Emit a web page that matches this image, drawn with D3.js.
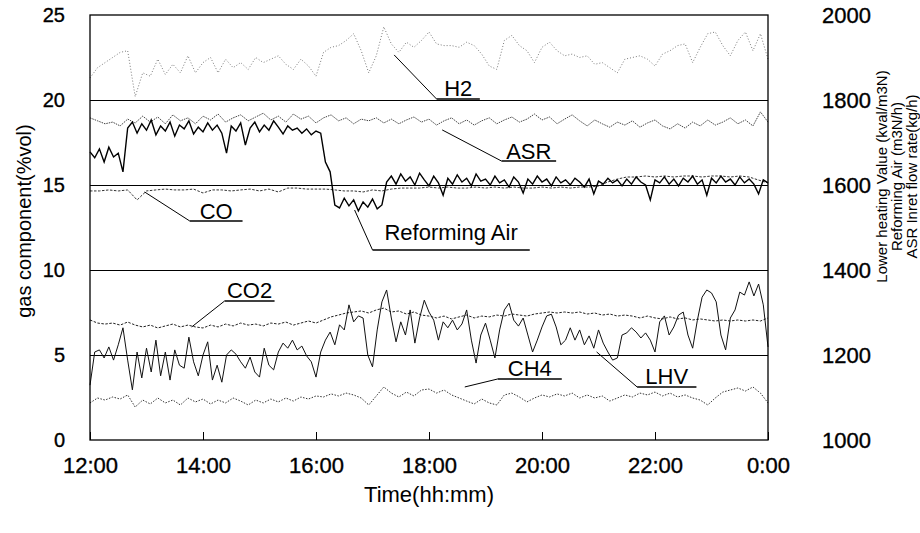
<!DOCTYPE html>
<html>

<head>
    <meta charset="utf-8">
    <style>
        body {
            margin: 0;
            background: #fff;
        }

        svg {
            font-family: "Liberation Sans", Arial, sans-serif;
        }

        .grid .tick line {
            stroke: #000;
            stroke-width: 1.1;
        }

        .grid .domain {
            display: none;
        }

        .axis .domain {
            display: none;
        }

        .axis .tick text {
            fill: #000;
            stroke: #000;
            stroke-width: 0.35;
        }

        .y.axis .tick text {
            font-size: 20px;
        }

        .y2.axis .tick text {
            font-size: 22px;
        }

        .x.axis .tick text {
            font-size: 22px;
        }

        .x.axis .tick line {
            stroke: #000;
            stroke-width: 1;
        }

        .note {
            font-size: 22px;
            fill: #000;
        }

        .title {
            font-size: 15px;
            fill: #000;
        }
    </style>
</head>

<body>
    <svg width="920" height="533"></svg>

    <script src="https://d3js.org/d3.v7.min.js"></script>

    <script>
        let width = 920;
        let height = 533;
        let margin = { top: 15, right: 152, bottom: 93, left: 90 };

        let svg = d3.select("svg")

        // time axis: minutes after 12:00
        let timeTicks = [0, 120, 240, 360, 480, 600, 720]
        let timeLabels = ["12:00", "14:00", "16:00", "18:00", "20:00", "22:00", "0:00"]
        let leftTicks = [0, 5, 10, 15, 20, 25]
        let rightTicks = [1000, 1200, 1400, 1600, 1800, 2000]

        // gas components (%vol), every 8 min
        let h2 = [21.3, 21.9, 22.2, 22.5, 22.8, 22.9, 20.2, 21.6, 21.4, 22.4,
            21.5, 22.1, 21.6, 22.6, 21.6, 22.2, 22.5, 21.6, 22.4, 21.9,
            22.2, 21.8, 22.5, 22.2, 22.4, 22.6, 22.1, 21.8, 22.4, 22.0,
            21.4, 22.8, 23.1, 23.2, 23.5, 23.9, 22.9, 21.6, 22.6, 24.3,
            23.3, 22.8, 23.4, 23.1, 23.5, 24.0, 23.3, 23.2, 23.2, 23.1,
            23.4, 23.2, 22.7, 22.0, 21.8, 23.5, 23.8, 23.2, 22.9, 22.2,
            23.1, 23.4, 22.9, 22.6, 22.7, 22.5, 22.6, 22.1, 22.2, 21.9,
            21.6, 22.4, 22.5, 22.6, 22.4, 22.0, 22.7, 22.9, 23.2, 23.3,
            22.2, 23.1, 23.9, 24.0, 23.2, 22.6, 23.5, 24.0, 22.9, 23.9,
            22.4]
        let co2 = [7.06, 6.88, 6.82, 6.88, 6.76, 6.94, 6.76, 6.65, 6.76, 6.59,
            6.71, 6.82, 6.65, 6.76, 6.65, 6.59, 6.76, 6.65, 6.82, 6.71,
            6.88, 6.76, 6.82, 6.71, 6.88, 6.82, 6.94, 6.76, 6.88, 7.00,
            6.88, 7.06, 7.24, 7.35, 7.47, 7.53, 7.59, 7.47, 7.65, 7.76,
            7.53, 7.59, 7.41, 7.53, 7.35, 7.29, 7.18, 7.29, 7.12, 7.24,
            7.35, 7.18, 7.29, 7.24, 7.35, 7.29, 7.41, 7.35, 7.29, 7.41,
            7.47, 7.53, 7.47, 7.53, 7.47, 7.53, 7.41, 7.47, 7.35, 7.41,
            7.29, 7.35, 7.29, 7.18, 7.29, 7.18, 7.12, 7.24, 7.12, 7.18,
            7.06, 7.12, 7.06, 7.00, 7.06, 7.00, 7.06, 7.00, 7.06, 7.00,
            7.18]
        let ch4 = [2.18, 2.47, 2.35, 2.53, 2.41, 2.65, 1.94, 2.35, 2.12, 2.47,
            2.18, 2.35, 2.06, 2.47, 2.24, 2.41, 2.12, 2.35, 2.18, 2.47,
            2.29, 2.06, 2.35, 2.18, 2.41, 2.24, 2.47, 2.29, 2.53, 2.41,
            2.59, 2.53, 2.71, 2.59, 2.76, 2.65, 2.47, 2.06, 2.59, 3.12,
            2.76, 2.53, 2.82, 2.59, 2.94, 3.00, 2.76, 2.94, 2.65, 2.47,
            2.29, 2.12, 2.41, 2.18, 2.06, 2.65, 2.76, 2.53, 2.24, 2.47,
            2.65, 2.53, 2.71, 2.59, 2.76, 2.47, 2.65, 2.47, 2.59, 2.29,
            2.47, 2.65, 2.53, 2.76, 2.65, 2.82, 2.59, 2.76, 2.53, 2.65,
            2.47, 2.35, 2.06, 2.47, 2.82, 2.94, 3.06, 2.88, 3.12, 2.76,
            2.18]
        // CO, every 10 min
        let co = [14.65, 14.65, 14.71, 14.65, 14.71, 14.12, 14.65, 14.71, 14.76, 14.71,
            14.71, 14.76, 14.53, 14.71, 14.71, 14.65, 14.71, 14.76, 14.65, 14.76,
            14.59, 14.82, 14.82, 14.76, 14.76, 14.76, 14.71, 14.65, 14.65, 14.59,
            14.71, 14.65, 14.76, 14.82, 14.82, 14.82, 14.88, 14.82, 14.88, 14.82,
            14.82, 14.88, 14.82, 14.88, 14.82, 14.88, 14.82, 14.82, 14.88, 14.82,
            14.88, 14.82, 14.88, 14.88, 14.94, 15.18, 15.35, 15.47, 15.47, 15.53,
            15.47, 15.53, 15.47, 15.53, 15.53, 15.47, 15.53, 15.53, 15.47, 15.53,
            15.47, 15.29, 15.12]

        // right axis series
        // ASR inlet flow (kg/h), every 8 min
        let asr = [1758, 1751, 1744, 1748, 1739, 1755, 1746, 1762, 1748, 1760,
            1744, 1765, 1751, 1758, 1744, 1762, 1753, 1767, 1748, 1758,
            1765, 1751, 1760, 1769, 1753, 1762, 1748, 1767, 1755, 1762,
            1746, 1758, 1765, 1751, 1758, 1744, 1755, 1751, 1758, 1746,
            1755, 1744, 1753, 1760, 1748, 1755, 1741, 1751, 1758, 1744,
            1753, 1741, 1751, 1758, 1744, 1753, 1760, 1748, 1755, 1767,
            1753, 1760, 1744, 1755, 1765, 1751, 1739, 1753, 1744, 1736,
            1748, 1741, 1751, 1736, 1746, 1753, 1739, 1732, 1744, 1734,
            1748, 1739, 1753, 1741, 1748, 1758, 1744, 1753, 1739, 1772,
            1748]
        // reforming air (m3N/h), every 5 min
        let refAir = [1678, 1664, 1685, 1654, 1689, 1666, 1675, 1631,
            1734, 1748, 1722, 1744, 1729, 1753, 1718, 1739, 1727, 1748,
            1715, 1741, 1732, 1751, 1720, 1736, 1725, 1746, 1729, 1741,
            1722, 1675, 1739, 1727, 1746, 1694, 1734, 1748, 1725, 1741,
            1729, 1751, 1736, 1720, 1739, 1729, 1734, 1722, 1732, 1718,
            1727, 1722,
            1654, 1631, 1553, 1546, 1569, 1551, 1565, 1539, 1560, 1548, 1567, 1544, 1553,
            1607, 1621, 1602, 1626, 1609, 1619, 1600, 1628, 1612, 1598,
            1621, 1605, 1576, 1616, 1602, 1624, 1607, 1616, 1598, 1626,
            1609, 1614, 1600, 1621, 1605, 1612, 1595, 1619, 1607, 1581,
            1614, 1602, 1621, 1607, 1614, 1598, 1619, 1605, 1612, 1600,
            1616, 1607, 1595, 1614, 1579, 1609, 1602, 1616, 1605, 1612,
            1598, 1614, 1602, 1619, 1607, 1600, 1565, 1612, 1605, 1619,
            1602, 1614, 1598, 1616, 1607, 1621, 1602, 1612, 1576, 1616,
            1605, 1621, 1607, 1614, 1600, 1619, 1605, 1614, 1602, 1579,
            1612, 1605]
        // lower heating value (kcal/m3N), every 5 min
        let lhv = [1129, 1207, 1212, 1193, 1219, 1188, 1224, 1264, 1188, 1118,
            1207, 1146, 1216, 1160, 1235, 1151, 1207, 1141, 1212, 1176,
            1169, 1242, 1184, 1151, 1200, 1231, 1141, 1176, 1136, 1200,
            1212, 1202, 1184, 1169, 1195, 1160, 1148, 1216, 1176, 1165,
            1207, 1228, 1216, 1235, 1212, 1221, 1198, 1184, 1148, 1207,
            1235, 1254, 1224, 1271, 1259, 1318, 1278, 1292, 1287, 1200,
            1172, 1259, 1325, 1353, 1287, 1231, 1278, 1247, 1306, 1228,
            1287, 1329, 1301, 1282, 1235, 1278, 1264, 1282, 1259, 1273,
            1306, 1235, 1181, 1247, 1275, 1235, 1193, 1259, 1306, 1322,
            1282, 1268, 1287, 1247, 1207, 1235, 1266, 1292, 1296, 1266,
            1224, 1235, 1264, 1235, 1259, 1224, 1245, 1216, 1259, 1228,
            1207, 1188, 1193, 1247, 1252, 1264, 1254, 1240, 1252, 1235,
            1207, 1278, 1292, 1247, 1266, 1294, 1301, 1247, 1216, 1282,
            1336, 1353, 1346, 1325, 1247, 1212, 1287, 1306, 1348, 1341,
            1372, 1339, 1367, 1318, 1219]

        let x = d3.scaleLinear()
            .domain([0, 720])
            .range([margin.left, width - margin.right])

        let yL = d3.scaleLinear()
            .domain([0, 25])
            .range([height - margin.bottom, margin.top])

        let yR = d3.scaleLinear()
            .domain([1000, 2000])
            .range([height - margin.bottom, margin.top])

        let plotW = width - margin.left - margin.right
        let plotH = height - margin.top - margin.bottom

        // gridlines
        svg.append("g")
            .attr("class", "grid")
            .attr("transform", `translate(${margin.left},0)`)
            .call(d3.axisLeft(yL).tickValues([5, 10, 15, 20]).tickSize(-plotW).tickFormat(""))

        // series
        let series = [
            { name: "H2", values: h2, step: 8, y: yL, color: "#7a7a7a", w: 1, dash: "1,2" },
            { name: "ASR", values: asr, step: 8, y: yR, color: "#444", w: 1, dash: "1.5,1" },
            { name: "CO", values: co, step: 10, y: yL, color: "#333", w: 1, dash: "2.5,1.5" },
            { name: "CO2", values: co2, step: 8, y: yL, color: "#222", w: 1, dash: "2.5,1.5" },
            { name: "CH4", values: ch4, step: 8, y: yL, color: "#333", w: 1, dash: "1.5,1.5" },
            { name: "LHV", values: lhv, step: 5, y: yR, color: "#111", w: 1, dash: null },
            { name: "Reforming Air", values: refAir, step: 5, y: yR, color: "#000", w: 1.4, dash: null }
        ]

        series.forEach(s => {
            let line = d3.line()
                .x((d, i) => x(i * s.step))
                .y(d => s.y(d))

            svg.append("path")
                .datum(s.values)
                .attr("class", "series")
                .attr("fill", "none")
                .attr("stroke", s.color)
                .attr("stroke-width", s.w)
                .attr("stroke-dasharray", s.dash)
                .attr("d", line)
        })

        // frame
        svg.append("rect")
            .attr("x", margin.left)
            .attr("y", margin.top)
            .attr("width", plotW)
            .attr("height", plotH)
            .attr("fill", "none")
            .attr("stroke", "#000")
            .attr("stroke-width", 1.3)

        // axes
        svg.append("g")
            .attr("class", "x axis")
            .attr("transform", `translate(0,${height - margin.bottom})`)
            .call(d3.axisBottom(x)
                .tickValues(timeTicks)
                .tickSize(-8)
                .tickPadding(17)
                .tickFormat((d, i) => timeLabels[i]))

        svg.append("g")
            .attr("class", "y axis")
            .attr("transform", `translate(${margin.left},0)`)
            .call(d3.axisLeft(yL)
                .tickValues(leftTicks)
                .tickSize(0)
                .tickPadding(25))

        svg.append("g")
            .attr("class", "y2 axis")
            .attr("transform", `translate(${width - margin.right},0)`)
            .call(d3.axisRight(yR)
                .tickValues(rightTicks)
                .tickSize(0)
                .tickPadding(54)
                .tickFormat(d3.format("d")))

        // axis titles
        svg.append("text")
            .attr("class", "title")
            .attr("text-anchor", "middle")
            .attr("transform", `translate(31,${yL(12.88)}) rotate(-90)`)
            .style("font-size", "20px")
            .text("gas component(%vol)")

        let rightTitles = ["Lower heating Value (kval/m3N)", "Reforming Air (m3N/h)", "ASR Inret flow rate(kg/h)"]
        rightTitles.forEach((t, i) => {
            svg.append("text")
                .attr("class", "title")
                .attr("text-anchor", "middle")
                .attr("transform", `translate(${887 + i * 15},${yL(15.5)}) rotate(-90)`)
                .text(t)
        })

        svg.append("text")
            .attr("class", "title")
            .attr("text-anchor", "middle")
            .attr("x", x(360))
            .attr("y", 502)
            .style("font-size", "22px")
            .text("Time(hh:mm)")

        // callouts: anchor on the curve, then a line to an underlined label
        let notes = [
            { label: "H2", ax: 323, ay: 22.65, u0: 368, u1: 414, uy: 20.06 },
            { label: "ASR", ax: 374, ay: 18.24, u0: 437, u1: 495, uy: 16.41 },
            { label: "CO", ax: 58, ay: 14.59, u0: 106, u1: 162, uy: 12.88 },
            { label: "Reforming Air", ax: 281, ay: 13.53, u0: 300, u1: 467, uy: 11.18, gap: 10 },
            { label: "CO2", ax: 108, ay: 6.65, u0: 143, u1: 196, uy: 8.18 },
            { label: "CH4", ax: 398, ay: 3.12, u0: 433, u1: 501, uy: 3.59 },
            { label: "LHV", ax: 538, ay: 5.18, u0: 581, u1: 644, uy: 3.12 }
        ]

        let callouts = svg.append("g").attr("class", "callouts")

        notes.forEach(n => {
            callouts.append("line")
                .attr("x1", x(n.ax)).attr("y1", yL(n.ay))
                .attr("x2", x(n.u0)).attr("y2", yL(n.uy))
                .attr("stroke", "#000").attr("stroke-width", 1)
            callouts.append("line")
                .attr("x1", x(n.u0)).attr("y1", yL(n.uy))
                .attr("x2", x(n.u1)).attr("y2", yL(n.uy))
                .attr("stroke", "#000").attr("stroke-width", 1.4)
            callouts.append("text")
                .attr("class", "note")
                .attr("x", (x(n.u0) + x(n.u1)) / 2)
                .attr("y", yL(n.uy) - (n.gap || 2.5))
                .attr("text-anchor", "middle")
                .text(n.label)
        })
    </script>
</body>

</html>
